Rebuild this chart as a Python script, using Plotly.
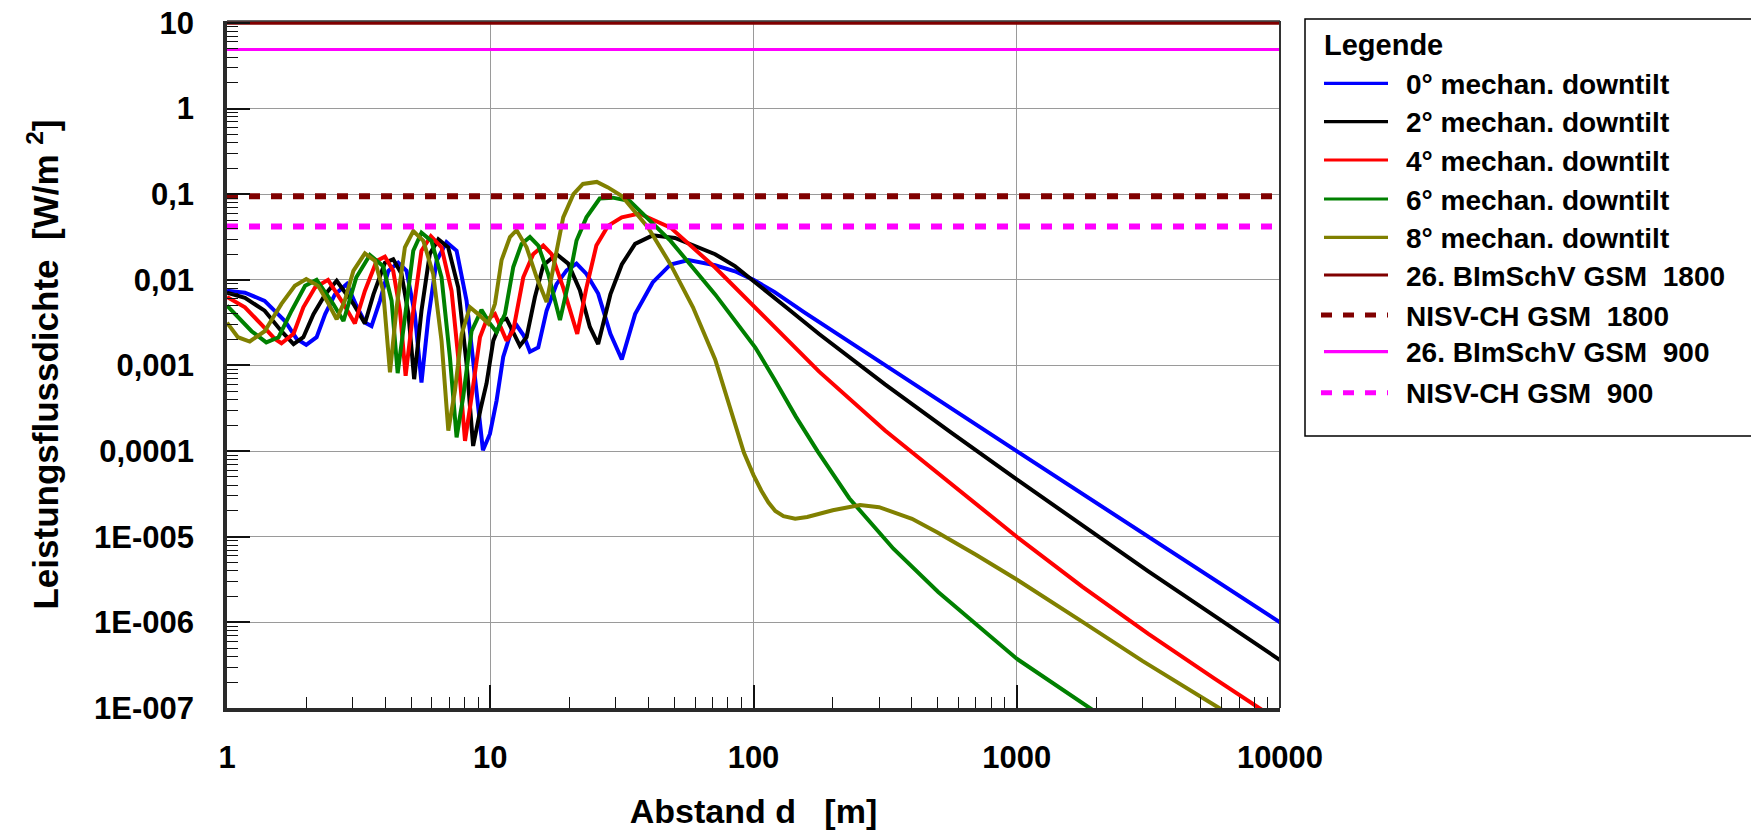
import plotly.graph_objects as go

# ---------------- data (distance in m, log10 of power flux density in W/m^2) ----------------
d_0deg = [1.0, 1.17, 1.39, 1.66, 1.84, 2.0, 2.19, 2.36, 2.57, 2.85, 3.1, 3.35, 3.54, 3.81, 4.1, 4.47, 4.81,
          5.17, 5.48, 5.82, 6.25, 6.82, 7.45, 8.13, 8.75, 9.38, 9.97, 10.57, 11.2, 12.05, 12.59, 13.4, 14.15,
          15.22, 16.37, 17.86, 19.5, 21.27, 23.2, 25.7, 28.6, 31.6, 35.5, 41.4, 48.4, 56.6, 71.5, 85, 100,
          120, 156, 339, 1000, 10000]
lg_0deg = [-2.128, -2.15, -2.245, -2.48, -2.69, -2.76, -2.67, -2.40, -2.17, -2.05, -2.30, -2.50, -2.54, -2.245,
           -1.895, -1.80, -1.895, -2.40, -3.20, -2.44, -1.78, -1.56, -1.66, -2.245, -3.14, -3.99, -3.80, -3.41,
           -2.90, -2.59, -2.53, -2.65, -2.84, -2.79, -2.36, -2.05, -1.89, -1.81, -1.93, -2.16, -2.63, -2.93,
           -2.40, -2.03, -1.82, -1.77, -1.83, -1.90, -2.0, -2.14, -2.38, -3.06, -4.0, -6.0]

d_2deg = [1.0, 1.17, 1.39, 1.61, 1.79, 1.95, 2.13, 2.36, 2.61, 3.02, 3.34, 3.6, 3.98, 4.28, 4.6, 4.89, 5.14,
          5.48, 5.89, 6.35, 6.92, 7.56, 8.13, 8.61, 9.2, 9.68, 10.27, 11.04, 11.53, 12.96, 13.74, 14.78, 15.9,
          17.86, 19.77, 21.9, 23.9, 25.7, 28.6, 31.6, 35.5, 41.4, 50.3, 71.5, 85, 100, 133, 178, 316, 562,
          1000, 3162, 10000]
lg_2deg = [-2.15, -2.21, -2.36, -2.60, -2.75, -2.67, -2.40, -2.17, -2.01, -2.28, -2.51, -2.17, -1.80, -1.76,
           -1.93, -2.40, -3.16, -2.36, -1.70, -1.525, -1.62, -2.09, -2.98, -3.94, -3.50, -3.21, -2.71, -2.47,
           -2.455, -2.77, -2.67, -2.20, -1.83, -1.70, -1.81, -2.12, -2.55, -2.75, -2.17, -1.82, -1.58, -1.48,
           -1.51, -1.70, -1.84, -2.01, -2.32, -2.635, -3.22, -3.78, -4.33, -5.405, -6.44]

d_4deg = [1.0, 1.17, 1.35, 1.52, 1.61, 1.79, 1.95, 2.16, 2.42, 2.77, 3.06, 3.34, 3.7, 3.98, 4.28, 4.54, 4.77,
          5.1, 5.48, 5.95, 6.53, 7.13, 7.56, 8.02, 8.49, 9.14, 9.68, 10.42, 11.53, 12.23, 13.35, 14.56, 15.9,
          17.1, 18.93, 21.4, 23.2, 25.3, 28.0, 31.6, 36.8, 48.4, 71.5, 100, 133, 178, 316, 562, 1000, 1778,
          3162, 5623, 10000]
lg_4deg = [-2.20, -2.32, -2.52, -2.69, -2.74, -2.63, -2.32, -2.09, -2.00, -2.28, -2.51, -2.13, -1.78, -1.73,
           -1.895, -2.36, -3.12, -2.36, -1.66, -1.49, -1.62, -2.13, -2.91, -3.88, -3.37, -2.67, -2.47, -2.40,
           -2.71, -2.59, -1.97, -1.70, -1.60, -1.70, -2.09, -2.63, -2.09, -1.60, -1.37, -1.27, -1.225, -1.39,
           -1.856, -2.30, -2.69, -3.075, -3.76, -4.385, -5.0, -5.585, -6.135, -6.655, -7.16]

d_6deg = [1.0, 1.1, 1.24, 1.41, 1.57, 1.76, 1.98, 2.19, 2.53, 2.77, 3.1, 3.49, 3.92, 4.22, 4.45, 4.74, 5.1,
          5.48, 5.98, 6.53, 7.03, 7.45, 7.89, 8.49, 9.26, 9.97, 10.57, 11.37, 12.23, 13.15, 14.15, 15.22, 16.6,
          18.4, 19.77, 21.27, 23.2, 26.05, 29.2, 33.9, 48.4, 71.5, 101.6, 120, 145, 175, 231, 340, 503, 1000,
          1897, 2500]
lg_6deg = [-2.30, -2.44, -2.60, -2.73, -2.67, -2.36, -2.07, -2.00, -2.28, -2.48, -1.97, -1.71, -1.84, -2.245,
           -3.09, -2.44, -1.66, -1.45, -1.545, -1.97, -2.91, -3.84, -3.37, -2.60, -2.35, -2.51, -2.61, -2.40,
           -1.85, -1.58, -1.50, -1.60, -1.93, -2.47, -2.05, -1.54, -1.27, -1.05, -1.04, -1.08, -1.545, -2.17,
           -2.79, -3.16, -3.60, -4.0, -4.55, -5.14, -5.646, -6.425, -7.008, -7.25]

d_8deg = [1.0, 1.1, 1.22, 1.39, 1.61, 1.81, 2.0, 2.22, 2.43, 2.61, 2.8, 3.02, 3.34, 3.65, 3.92, 4.16, 4.41,
          4.74, 5.1, 5.57, 6.07, 6.53, 6.93, 7.34, 7.79, 8.37, 9.0, 9.82, 10.42, 11.04, 11.88, 12.59, 13.74,
          15.0, 16.37, 17.6, 18.93, 20.7, 22.5, 25.4, 28.0, 31.6, 39.8, 48.4, 58.9, 71.5, 85, 92, 100, 107,
          114, 121, 130, 144, 160, 200, 254, 300, 400, 500, 700, 1000, 1790, 3000, 5870, 8000]
lg_8deg = [-2.50, -2.67, -2.72, -2.60, -2.28, -2.07, -1.99, -2.07, -2.28, -2.46, -2.245, -1.895, -1.69, -1.78,
           -2.13, -3.08, -2.32, -1.62, -1.43, -1.545, -1.93, -2.71, -3.76, -3.30, -2.63, -2.32, -2.40, -2.51,
           -2.28, -1.77, -1.50, -1.42, -1.62, -1.97, -2.26, -1.735, -1.27, -1.00, -0.88, -0.856, -0.92, -1.02,
           -1.39, -1.82, -2.32, -2.93, -3.67, -4.02, -4.28, -4.46, -4.60, -4.70, -4.76, -4.79, -4.77, -4.69,
           -4.63, -4.655, -4.79, -4.95, -5.21, -5.50, -6.0, -6.45, -7.0, -7.27]

series_names = ["0° mechan. downtilt", "2° mechan. downtilt", "4° mechan. downtilt",
                "6° mechan. downtilt", "8° mechan. downtilt"]
series_d = [d_0deg, d_2deg, d_4deg, d_6deg, d_8deg]
series_lg = [lg_0deg, lg_2deg, lg_4deg, lg_6deg, lg_8deg]

limit_names = ["26. BImSchV GSM&nbsp; 1800", "NISV-CH GSM&nbsp; 1800",
               "26. BImSchV GSM&nbsp; 900", "NISV-CH GSM&nbsp; 900"]
limit_values = [10.0, 0.095, 4.9, 0.042]
limit_span = [1, 10000]

x_tickvals = [1, 10, 100, 1000, 10000]
x_ticktext = ["1", "10", "100", "1000", "10000"]
y_tickvals = [1e-7, 1e-6, 1e-5, 1e-4, 1e-3, 1e-2, 1e-1, 1, 10]
y_ticktext = ["1E-007", "1E-006", "1E-005", "0,0001", "0,001", "0,01", "0,1", "1", "10"]

# ---------------- styles ----------------
series_colors = ["#0000FF", "#000000", "#FF0000", "#008000", "#808000"]
limit_colors = ["#800000", "#800000", "#FF00FF", "#FF00FF"]
limit_dash = ["solid", "11px,11px", "solid", "11px,11px"]
limit_width = [3.5, 6, 3, 6]

W, H = 1751, 838
L, R, T, B = 227, 1280, 21, 708  # plot area in pixels
FONT = "Liberation Sans, Arial, sans-serif"


def px(xp):
    return (xp - L) / (R - L)


def py(yp):
    return (B - yp) / (B - T)


fig = go.Figure()
for name, dd, lg, c in zip(series_names, series_d, series_lg, series_colors):
    fig.add_trace(go.Scatter(x=dd, y=[10 ** v for v in lg], mode="lines", name=name,
                             line=dict(color=c, width=4.0), showlegend=False))
for name, v, c, ds, w in zip(limit_names, limit_values, limit_colors, limit_dash, limit_width):
    fig.add_trace(go.Scatter(x=limit_span, y=[v, v], mode="lines", name=name,
                             line=dict(color=c, width=w, dash=ds), showlegend=False))

axis_common = dict(
    type="log", showline=True, linewidth=3.5, linecolor="#2a2a2a", mirror=False,
    showgrid=True, gridcolor="#9a9a9a", gridwidth=1, zeroline=False,
    ticks="inside", ticklen=23, tickwidth=1.5, tickcolor="#111111",
    tickfont=dict(family=FONT, size=31, color="black", weight="bold"),
    minor=dict(ticks="inside", ticklen=11, tickwidth=1.2, tickcolor="#111111", dtick="D1", showgrid=False),
    tickmode="array",
)

fig.update_xaxes(**axis_common, range=[0, 4], tickvals=x_tickvals, ticktext=x_ticktext,
                 ticklabelstandoff=19,
                 title=dict(text="Abstand d&nbsp;&nbsp; [m]", standoff=26,
                            font=dict(family=FONT, size=34, color="black", weight="bold")))
fig.update_yaxes(**axis_common, range=[-7, 1.023], tickvals=y_tickvals, ticktext=y_ticktext,
                 ticklabelstandoff=23,
                 title=dict(text="Leistungsflussdichte&nbsp; [W/m&nbsp;<sup>2</sup>]", standoff=26,
                            font=dict(family=FONT, size=35, color="black", weight="bold")))

shapes = []
# right and top plot border
shapes.append(dict(type="line", xref="paper", yref="paper", x0=1, x1=1, y0=0, y1=1,
                   line=dict(color="#333333", width=2)))
shapes.append(dict(type="line", xref="paper", yref="paper", x0=0, x1=1, y0=1, y1=1,
                   line=dict(color="#333333", width=1.5)))
# legend box
shapes.append(dict(type="rect", xref="paper", yref="paper", x0=px(1305), x1=px(1752), y0=py(436), y1=py(19),
                   line=dict(color="black", width=1.5), fillcolor="rgba(0,0,0,0)"))

annotations = [dict(text="Legende", xref="paper", yref="paper", x=px(1322), y=py(45), xanchor="left",
                    yanchor="middle", showarrow=False,
                    font=dict(family=FONT, size=29, color="black", weight="bold"))]

legend_rows_y = [83.3, 121.7, 160, 199, 237.3, 275, 315, 351.7, 392.7]
legend_items = list(zip(series_names, series_colors, ["solid"] * 5, [3.2] * 5)) + \
    list(zip(limit_names, limit_colors, limit_dash, [3.2, 5, 3.2, 5]))
for (name, c, ds, w), yy in zip(legend_items, legend_rows_y):
    x0 = 1321 if ds != "solid" else 1324
    shapes.append(dict(type="line", xref="paper", yref="paper", x0=px(x0), x1=px(1388), y0=py(yy), y1=py(yy),
                       line=dict(color=c, width=w, dash=ds)))
    annotations.append(dict(text=name, xref="paper", yref="paper", x=px(1404), y=py(yy + 1), xanchor="left",
                            yanchor="middle", showarrow=False,
                            font=dict(family=FONT, size=28, color="black", weight="bold")))

fig.update_layout(
    width=W, height=H,
    margin=dict(l=L, r=W - R, t=T, b=H - B, autoexpand=False),
    paper_bgcolor="white", plot_bgcolor="white",
    showlegend=False,
    shapes=shapes, annotations=annotations,
    font=dict(family=FONT, color="black"),
)

fig.write_html("out.html")
